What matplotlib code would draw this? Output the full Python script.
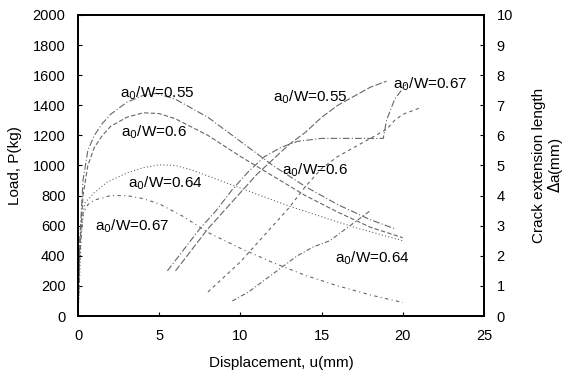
import matplotlib.pyplot as plt
import numpy as np

plt.rcParams['font.family'] = ['Liberation Sans', 'DejaVu Sans']

# region Data
# load vs displacement (left axis)
u_load_055 = [0, 0.1, 0.3, 0.6, 1, 1.5, 2, 3, 4, 4.8, 6, 8, 10, 12, 14, 16, 18, 19.5]
p_load_055 = [0, 500, 900, 1100, 1200, 1280, 1340, 1420, 1465, 1480, 1440, 1320, 1160, 1000, 860, 740, 640, 580]

u_load_060 = [0, 0.1, 0.3, 0.6, 1, 1.5, 2, 3, 4, 5, 6, 8, 10, 12, 14, 16, 18, 20]
p_load_060 = [0, 450, 800, 1000, 1120, 1200, 1260, 1320, 1350, 1345, 1310, 1200, 1060, 930, 800, 690, 590, 520]

u_load_064 = [0, 0.2, 0.4, 1, 1.8, 3, 4, 5, 6, 7, 9, 11, 13, 15, 17, 19, 20]
p_load_064 = [0, 550, 750, 820, 890, 950, 985, 1005, 1000, 970, 890, 810, 730, 660, 590, 530, 500]

u_load_067 = [0, 0.1, 0.3, 0.6, 1, 2, 3, 4, 5, 6.5, 8, 10, 12, 14, 16, 18, 20]
p_load_067 = [0, 400, 680, 740, 770, 800, 800, 780, 745, 660, 555, 450, 355, 270, 200, 140, 90]

# crack extension vs displacement (right axis)
u_crack_055 = [6, 7, 8, 9, 10, 11, 12, 13, 14, 15, 16, 17, 18, 19]
da_crack_055 = [1.5, 2.2, 2.9, 3.5, 4.1, 4.7, 5.2, 5.7, 6.1, 6.6, 7.0, 7.3, 7.6, 7.8]

u_crack_060 = [8, 9, 10, 11, 12, 13, 14, 15, 16, 17, 18, 19, 19.5, 20, 21]
da_crack_060 = [0.8, 1.3, 1.8, 2.4, 3.0, 3.6, 4.3, 4.9, 5.3, 5.6, 5.9, 6.2, 6.5, 6.7, 6.9]

u_crack_064 = [9.5, 10.5, 11.5, 12.5, 13.5, 14.5, 15.5, 16.5, 17.5, 18]
da_crack_064 = [0.5, 0.8, 1.2, 1.6, 2.0, 2.3, 2.5, 2.9, 3.3, 3.5]

u_crack_067 = [5.5, 6.5, 7.5, 8.5, 9.5, 10.5, 11.5, 12.5, 13.5, 15, 17, 18.8, 19.0, 19.5, 20.2]
da_crack_067 = [1.5, 2.2, 2.9, 3.5, 4.2, 4.8, 5.3, 5.6, 5.8, 5.9, 5.9, 5.9, 6.5, 7.2, 7.7]

labels = ['a$_0$/W=0.55', 'a$_0$/W=0.6', 'a$_0$/W=0.64', 'a$_0$/W=0.67']
# endregion

fig = plt.figure(figsize=(5.66, 3.74), dpi=100)
ax = fig.add_axes([0.138, 0.155, 0.717, 0.805])
ax2 = ax.twinx()

line_color = '0.4'
ax.plot(u_load_055, p_load_055, color=line_color, lw=0.8, ls=(0, (6, 2, 1, 2)))
ax.plot(u_load_060, p_load_060, color=line_color, lw=0.8, ls=(0, (4, 2)))
ax.plot(u_load_064, p_load_064, color=line_color, lw=0.8, ls=(0, (1, 2)))
ax.plot(u_load_067, p_load_067, color=line_color, lw=0.8, ls=(0, (3, 3, 1, 3)))

ax2.plot(u_crack_055, da_crack_055, color=line_color, lw=0.8, ls=(0, (6, 2)))
ax2.plot(u_crack_060, da_crack_060, color=line_color, lw=0.8, ls=(0, (3, 3)))
ax2.plot(u_crack_064, da_crack_064, color=line_color, lw=0.8, ls=(0, (4, 2, 1, 2)))
ax2.plot(u_crack_067, da_crack_067, color=line_color, lw=0.8, ls=(0, (6, 2, 1, 2)))

ax.set_xlim(0, 25)
ax.set_ylim(0, 2000)
ax2.set_ylim(0, 10)
ax.set_xticks(np.arange(0, 26, 5))
ax.set_yticks(np.arange(0, 2001, 200))
ax2.set_yticks(np.arange(0, 11, 1))

ax.set_xlabel('Displacement, u(mm)', fontsize=11, labelpad=10)
ax.set_ylabel('Load, P(kg)', fontsize=11, labelpad=8)
ax2.set_ylabel('Crack extension length\n$\\Delta$a(mm)', fontsize=11, linespacing=1.0, labelpad=14)

for a in (ax, ax2):
    a.tick_params(direction='in', length=3, labelsize=10.5, pad=9)
    for s in a.spines.values():
        s.set_linewidth(1.3)

# annotations (load curves)
ax.text(4.9, 1480, labels[0], fontsize=11, ha='center', va='center')
ax.text(4.7, 1222, labels[1], fontsize=11, ha='center', va='center')
ax.text(5.4, 884, labels[2], fontsize=11, ha='center', va='center')
ax.text(3.3, 598, labels[3], fontsize=11, ha='center', va='center')
# annotations (crack curves)
ax.text(14.3, 1455, labels[0], fontsize=11, ha='center', va='center')
ax.text(21.7, 1541, labels[3], fontsize=11, ha='center', va='center')
ax.text(14.6, 970, labels[1], fontsize=11, ha='center', va='center')
ax.text(18.1, 385, labels[2], fontsize=11, ha='center', va='center')

fig.savefig('out.png', dpi=100)
